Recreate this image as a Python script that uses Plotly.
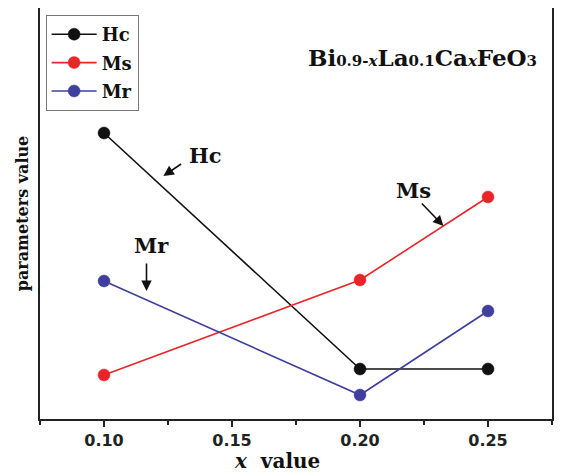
import plotly.graph_objects as go

x_vals = [0.10, 0.20, 0.25]
hc = [286, 50, 50]
ms = [44, 139, 222]
mr = [138, 24, 108]
series_names = ["Hc", "Ms", "Mr"]
colors = ["#111111", "#e8262a", "#3f3f9e"]
tick_vals = [0.10, 0.15, 0.20, 0.25]
tick_text = ["0.10", "0.15", "0.20", "0.25"]

serif = "DejaVu Serif, Liberation Serif, serif"
sans = "DejaVu Sans, Liberation Sans, sans-serif"

fig = go.Figure()
for name, ys, c in zip(series_names, [hc, ms, mr], colors):
    fig.add_trace(go.Scatter(
        x=x_vals, y=ys, name="<b>" + name + "</b>", mode="lines+markers",
        legendgroup=name,
        line=dict(color=c, width=1.6),
        marker=dict(color=c, size=12, line=dict(color=c, width=0.5)),
    ))

# page body adds an 8px offset; size the figure to compensate
fig.update_layout(
    width=558, height=468,
    margin=dict(l=32, r=14, t=0, b=57),
    plot_bgcolor="white", paper_bgcolor="white",
    showlegend=True,
    legend=dict(
        x=0.011, y=0.983, xanchor="left", yanchor="top",
        bordercolor="#777777", borderwidth=1, bgcolor="white",
        font=dict(family=serif, size=18, color="#111111"),
        tracegroupgap=2, itemwidth=45,
    ),
    xaxis=dict(
        range=[0.075, 0.275], tickvals=tick_vals,
        ticktext=["<b>" + t + "</b>" for t in tick_text],
        ticks="outside", ticklen=6, tickwidth=1.5, tickcolor="#222222",
        minor=dict(ticks="outside", ticklen=4, tickwidth=1.5, dtick=0.025, tickcolor="#222222"),
        showline=True, linecolor="#222222", linewidth=1.5, mirror=True,
        showgrid=False, zeroline=False, automargin=False,
        tickfont=dict(family=sans, size=16, color="#222222"),
    ),
    yaxis=dict(
        range=[0, 411], showticklabels=False, ticks="",
        showline=True, linecolor="#222222", linewidth=1.5, mirror=True,
        showgrid=False, zeroline=False, automargin=False,
        title=dict(text="<b>parameters value</b>", font=dict(family=serif, size=16, color="#111111"), standoff=6),
    ),
)

# x axis title (sits left of centre in the reference), anchored to the figure bottom
fig.add_annotation(
    x=0.1674, xref="x", y=0, yref="paper", yanchor="bottom", yshift=-56,
    text="<b><i>x</i>  value</b>", showarrow=False,
    font=dict(family=serif, size=20, color="#111111"),
)

small = "<span style='font-size:15px'>"
fig.add_annotation(
    x=0.1790, y=362, xref="x", yref="y", showarrow=False, xanchor="left",
    text=("<b>Bi" + small + "0.9-<i>x</i></span>La" + small + "0.1</span>Ca"
          + small + "<i>x</i></span>FeO" + small + "3</span></b>"),
    font=dict(family=serif, size=23, color="#111111"),
)

# arrows with labels
arrow_style = dict(showarrow=True, arrowhead=2, arrowsize=1.3, arrowwidth=1.6,
                   arrowcolor="#111111", axref="x", ayref="y", text="")
fig.add_annotation(x=0.1232, y=243, ax=0.1307, ay=256, **arrow_style)
fig.add_annotation(x=0.1166, y=128, ax=0.1166, ay=157, **arrow_style)
fig.add_annotation(x=0.2326, y=193, ax=0.2236, ay=217, **arrow_style)

label_font = dict(family=serif, size=21, color="#111111")
fig.add_annotation(x=0.1396, y=264, text="<b>Hc</b>", showarrow=False, font=label_font)
fig.add_annotation(x=0.1186, y=174, text="<b>Mr</b>", showarrow=False, font=label_font)
fig.add_annotation(x=0.2209, y=229, text="<b>Ms</b>", showarrow=False, font=label_font)

fig.write_html("out.html")
